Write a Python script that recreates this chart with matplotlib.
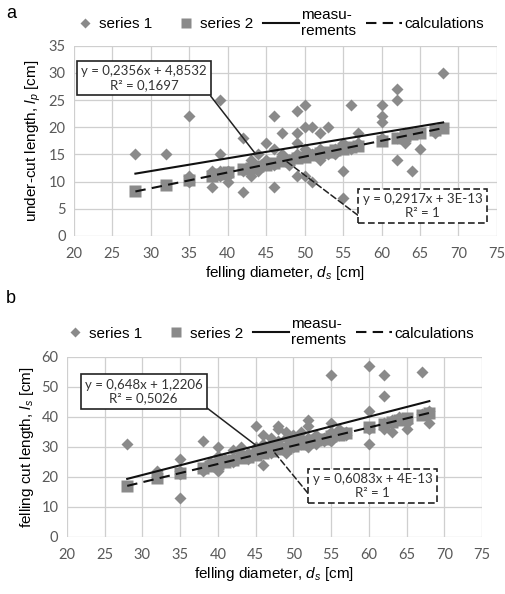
import matplotlib.pyplot as plt
from matplotlib.lines import Line2D
from matplotlib.legend_handler import HandlerLine2D

plt.rcParams['font.family'] = ['Liberation Sans', 'DejaVu Sans']
plt.rcParams['mathtext.fontset'] = 'custom'
plt.rcParams['mathtext.rm'] = 'Liberation Sans'
plt.rcParams['mathtext.it'] = 'Liberation Sans:italic'

# ---- panel a: under-cut length ----
a_d1 = [28, 32, 35, 35, 35, 38, 38, 38, 39, 39, 39, 39, 40, 40, 40, 42, 42, 42,
        43, 43, 43, 44, 44, 45, 45, 45, 46, 46, 46, 46, 47, 47, 47, 48, 48,
        49, 49, 49, 49, 49, 50, 50, 50, 50, 51, 51, 51, 52, 52, 52, 53, 53,
        54, 54, 55, 55, 55, 56, 56, 57, 57, 60, 60, 60, 60, 62, 62, 62, 62,
        63, 63, 64, 64, 65, 67, 68, 68]
a_l1 = [15, 15, 22, 11, 10, 12, 9, 11, 25, 15, 12, 11, 10, 12, 11, 18, 8, 12,
        13, 11, 14, 12, 15, 17, 14, 13, 22, 9, 16, 13, 19, 15, 14, 13, 14,
        23, 19, 17, 11, 15, 24, 20, 11, 16, 20, 10, 15, 19, 14, 16, 20, 15,
        16, 15, 12, 7, 17, 24, 16, 19, 17, 24, 22, 21, 18, 27, 25, 14, 18,
        17, 19, 12, 19, 16, 19, 30, 20]
a_d2 = [28, 32, 35, 38, 39, 40, 42, 43, 44, 45, 46, 47, 48, 49, 50, 51, 52, 53,
        54, 55, 56, 57, 60, 62, 63, 64, 65, 67, 68]
a_l2 = [8.2, 9.3, 10.2, 11.1, 11.4, 11.7, 12.3, 12.5, 12.8, 13.1, 13.4, 13.7,
        14.0, 14.3, 14.6, 14.9, 15.2, 15.5, 15.8, 16.0, 16.3, 16.6, 17.5, 18.1,
        18.4, 18.7, 19.0, 19.5, 19.8]
a_fit_meas = (0.2356, 4.8532)
a_fit_calc = (0.2917, 3e-13)
a_eq_meas = 'y = 0,2356x + 4,8532\nR² = 0,1697'
a_eq_calc = 'y = 0,2917x + 3E-13\nR² = 1'

# ---- panel b: felling cut length ----
b_d1 = [28, 32, 32, 35, 35, 35, 35, 38, 38, 38, 39, 39, 40, 40, 40, 40, 41,
        42, 42, 42, 43, 43, 43, 44, 44, 45, 45, 45, 46, 46, 46, 46, 47, 47, 47,
        48, 48, 48, 48, 49, 49, 49, 50, 50, 50, 51, 51, 51, 52, 52, 52, 52,
        53, 53, 54, 54, 55, 55, 55, 55, 56, 56, 57, 57, 60, 60, 60, 60,
        62, 62, 62, 62, 63, 63, 64, 65, 65, 67, 67, 68, 68]
b_l1 = [31, 22, 20, 26, 13, 21, 22, 32, 23, 22, 25, 24, 30, 27, 22, 25, 26,
        29, 26, 25, 30, 27, 28, 28, 26, 37, 30, 29, 34, 24, 31, 29, 33, 31, 28,
        37, 36, 32, 30, 35, 33, 28, 34, 32, 30, 35, 33, 31, 39, 37, 33, 30,
        34, 31, 33, 32, 54, 38, 35, 32, 36, 34, 35, 34, 57, 42, 31, 36,
        54, 47, 38, 36, 35, 39, 40, 36, 38, 55, 41, 38, 42]
b_d2 = [28, 32, 35, 38, 39, 40, 41, 42, 43, 44, 45, 46, 47, 48, 49, 50, 51, 52,
        53, 54, 55, 56, 57, 60, 62, 63, 64, 65, 67, 68]
b_l2 = [17.0, 19.5, 21.3, 23.1, 23.7, 24.3, 24.9, 25.5, 26.2, 26.8, 27.4, 28.0,
        28.6, 29.2, 29.8, 30.4, 31.0, 31.6, 32.2, 32.8, 33.5, 34.1, 34.7, 36.5,
        37.7, 38.3, 38.9, 39.5, 40.8, 41.4]
b_fit_meas = (0.648, 1.2206)
b_fit_calc = (0.6083, 4e-13)
b_eq_meas = 'y = 0,648x + 1,2206\nR² = 0,5026'
b_eq_calc = 'y = 0,6083x + 4E-13\nR² = 1'

legend_labels = ['series 1', 'series 2', 'measu-\nrements', 'calculations']
fit_range = (28, 68)
mark_gray = '#8a8a8a'
tick_gray = '#595959'
grid_gray = '#cfcfcf'
DIA_MS = 6.0
SQ_MS = 8.0


class RightMarker(HandlerLine2D):
    """marker drawn near the right end of the legend handle box, like Excel"""
    def get_xdata(self, legend, xdescent, ydescent, width, height, fontsize):
        x = -xdescent + width - 0.75 * fontsize
        return [x, x], [x]


def draw_panel(ax, d1, l1, d2, l2, fit_meas, fit_calc, eq_meas, eq_calc,
               ymax, ystep, ylabel, box_meas, box_calc, x_meas, x_calc):
    ax.plot(d2, l2, 's', color=mark_gray, markersize=SQ_MS, mec='none', zorder=3)
    ax.plot(d1, l1, 'D', color=mark_gray, markersize=DIA_MS, mec='none', zorder=3)
    xs = list(fit_range)
    ax.plot(xs, [fit_meas[0] * x + fit_meas[1] for x in xs], '-', color='#111111', lw=1.5, zorder=4)
    ax.plot(xs, [fit_calc[0] * x + fit_calc[1] for x in xs], '--', color='#111111', lw=1.5,
            dashes=(5, 3), zorder=4)

    ax.set_xlim(20, 75)
    ax.set_ylim(0, ymax)
    ax.set_xticks(range(20, 76, 5))
    ax.set_yticks(range(0, ymax + 1, ystep))
    ax.grid(True, color=grid_gray, lw=0.9)
    ax.set_axisbelow(True)
    for s in ax.spines.values():
        s.set_visible(False)
    ax.tick_params(length=0, labelsize=10.5, labelcolor=tick_gray)
    ax.tick_params(axis='x', pad=8)
    ax.tick_params(axis='y', pad=6)
    for lab in ax.get_xticklabels() + ax.get_yticklabels():
        lab.set_family('Lato')
    ax.set_xlabel(r'felling diameter, $d_s$ [cm]', fontsize=11, labelpad=2)
    ax.set_ylabel(ylabel, fontsize=11, labelpad=4)

    # equation boxes with leader lines to the trend lines
    ax.annotate(eq_meas, xy=(x_meas, fit_meas[0] * x_meas + fit_meas[1]), xycoords='data',
                xytext=box_meas, textcoords='axes fraction', ha='center', va='center',
                fontsize=9.5, family='Lato', color='#333333', linespacing=1.2,
                bbox=dict(boxstyle='square,pad=0.32', fc='white', ec='#222222', lw=1.2),
                arrowprops=dict(arrowstyle='-', color='#222222', lw=1.1,
                                relpos=(1, 0), shrinkA=0, shrinkB=0),
                zorder=5)
    ax.annotate(eq_calc, xy=(x_calc, fit_calc[0] * x_calc + fit_calc[1]), xycoords='data',
                xytext=box_calc, textcoords='axes fraction', ha='center', va='center',
                fontsize=9.5, family='Lato', color='#333333', linespacing=1.2,
                bbox=dict(boxstyle='square,pad=0.32', fc='white', ec='#222222', lw=1.2,
                          ls=(0, (4, 2))),
                arrowprops=dict(arrowstyle='-', color='#222222', lw=1.1, ls=(0, (4, 2)),
                                relpos=(0, 0), shrinkA=0, shrinkB=0),
                zorder=5)


def add_legend(fig, x, y):
    dia = Line2D([], [], ls='none', marker='D', color=mark_gray, markersize=5, mec='none')
    sq = Line2D([], [], ls='none', marker='s', color=mark_gray, markersize=6.5, mec='none')
    solid = Line2D([], [], ls='-', color='#111111', lw=1.5)
    dashed = Line2D([], [], ls='--', color='#111111', lw=1.5, dashes=(5, 3))
    leg = fig.legend([dia, sq, solid, dashed], legend_labels, loc='center',
                     bbox_to_anchor=(x, y), ncol=4, frameon=False, fontsize=11,
                     handlelength=2.4, handletextpad=0.15, columnspacing=0.6,
                     borderpad=0, labelspacing=0,
                     handler_map={dia: RightMarker(), sq: RightMarker()})
    for t in leg.get_texts():
        t.set_linespacing(1.25)


fig = plt.figure(figsize=(5.06, 5.94), dpi=100)
ax_a = fig.add_axes([0.146, 0.603, 0.836, 0.320])
ax_b = fig.add_axes([0.132, 0.096, 0.821, 0.303])

draw_panel(ax_a, a_d1, a_l1, a_d2, a_l2, a_fit_meas, a_fit_calc, a_eq_meas, a_eq_calc,
           35, 5, r'under-cut length, $l_p$ [cm]', (0.166, 0.829), (0.824, 0.158), 43.6, 47.5)
draw_panel(ax_b, b_d1, b_l1, b_d2, b_l2, b_fit_meas, b_fit_calc, b_eq_meas, b_eq_calc,
           60, 10, r'felling cut length, $l_s$ [cm]', (0.185, 0.808), (0.736, 0.283), 45.1, 47.3)

add_legend(fig, 272 / 506, 1 - 23 / 594)
add_legend(fig, 262 / 506, 1 - 332 / 594)

fig.text(0.012, 0.978, 'a', fontsize=13, va='center')
fig.text(0.012, 0.498, 'b', fontsize=13, va='center')

fig.savefig('out.png', dpi=100, facecolor='white')
